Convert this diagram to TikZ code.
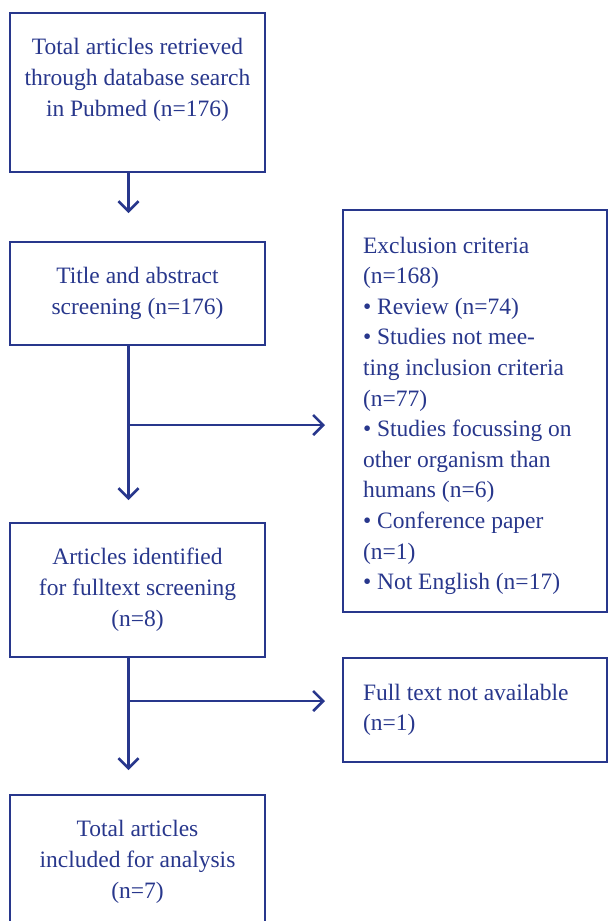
\documentclass[tikz,border=0pt]{standalone}
\usepackage{fontspec}
\setmainfont{Liberation Serif}
\usetikzlibrary{arrows.meta, positioning, calc}
\definecolor{flowblue}{RGB}{40,55,140}

\begin{document}
\begin{tikzpicture}[
    x=1pt, y=1pt,
    node distance=70pt,
    every node/.style={text=flowblue, font=\fontsize{23.5}{31}\selectfont},
    stage/.style={rectangle, draw=flowblue, line width=2.6pt, minimum width=255pt, align=center, inner sep=0pt, outer sep=0pt},
    side/.style={rectangle, draw=flowblue, line width=2.6pt, minimum width=264pt, text width=224pt, align=flush left, inner sep=0pt, outer sep=0pt, font=\fontsize{23.5}{30.6}\selectfont},
    arrow/.style={draw=flowblue, line width=2.6pt, -{Straight Barb[length=10pt, width=20pt]}}
]
\useasboundingbox (0,0) rectangle (608,-921);

% Nodes
\node[stage, minimum height=159pt] (search) at (137.5,-92.5) {Total articles retrieved\\through database search\\in Pubmed (n=176)\\~};
\node[stage, minimum height=103pt, below=70pt of search] (screen) {Title and abstract\\screening (n=176)};
\node[stage, minimum height=134pt, below=178pt of screen] (fulltext) {Articles identified\\for fulltext screening\\(n=8)};
\node[stage, minimum height=134pt, below=138pt of fulltext] (included) {Total articles\\included for analysis\\(n=7)};

\node[side, minimum height=402pt, anchor=north west] (exclude) at ([xshift=78pt, yshift=32pt]screen.north east) {\rule{0pt}{26pt}Exclusion criteria\\(n=168)\\• Review (n=74)\\• Studies not mee-\\ting inclusion criteria\\(n=77)\\• Studies focussing on\\other organism than\\humans (n=6)\\• Conference paper\\(n=1)\\• Not English (n=17)};
\node[side, minimum height=104pt, below=46pt of exclude] (unavail) {Full text not available\\(n=1)};

\coordinate (fork1) at ($(screen.south)+(-9,-80)$);
\coordinate (fork2) at ($(fulltext.south)+(-9,-44)$);

% Arrows
\draw[arrow, shorten >=29pt] ([xshift=-9pt]search.south) -- ([xshift=-9pt]screen.north);
\draw[arrow, shorten >=23pt] ([xshift=-9pt]screen.south) -- ([xshift=-9pt]fulltext.north);
\draw[arrow, shorten >=18pt] (fork1) -- (fork1 -| exclude.west);
\draw[arrow, shorten >=25pt] ([xshift=-9pt]fulltext.south) -- ([xshift=-9pt]included.north);
\draw[arrow, shorten >=18pt] (fork2) -- (fork2 -| unavail.west);

\end{tikzpicture}
\end{document}
